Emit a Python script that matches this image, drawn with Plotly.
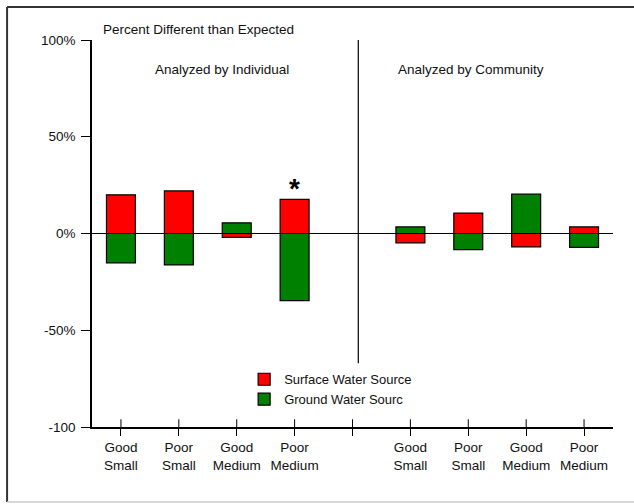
import plotly.graph_objects as go

# categories (slot 4 is the empty gap between the two groups)
x_pos = [0, 1, 2, 3, 5, 6, 7, 8]
tick_pos = [0, 1, 2, 3, 4, 5, 6, 7, 8]
tick_labels = ["Good<br>Small", "Poor<br>Small", "Good<br>Medium", "Poor<br>Medium", "",
               "Good<br>Small", "Poor<br>Small", "Good<br>Medium", "Poor<br>Medium"]
surface = [20, 22, -2, 17.6, -4.8, 10.5, -6.9, 3.4]
ground = [-15.2, -16.2, 5.5, -34.7, 3.4, -8.3, 20.3, -7.2]
y_ticks = [-100, -50, 0, 50, 100]
y_labels = ["-100", "-50%", "0%", "50%", "100%"]

font = dict(family="Liberation Sans, Arial, sans-serif", size=13.5, color="#111")

fig = go.Figure()
fig.add_trace(go.Bar(x=x_pos, y=surface, name="Surface Water Source", width=0.5,
                     marker=dict(color="#ff0000", line=dict(color="black", width=1.2))))
fig.add_trace(go.Bar(x=x_pos, y=ground, name="Ground Water Sourc", width=0.5,
                     marker=dict(color="#008000", line=dict(color="black", width=1.2))))

fig.update_layout(
    width=634, height=504,
    margin=dict(l=92, r=21, t=40, b=77),
    paper_bgcolor="white", plot_bgcolor="white",
    barmode="relative",
    font=font,
    showlegend=True,
    legend=dict(x=0.292, y=0.162, xanchor="left", yanchor="top", bgcolor="rgba(0,0,0,0)",
                itemwidth=30, tracegroupgap=0, font=dict(font, size=13)),
)
fig.update_xaxes(range=[-0.5, 8.5], tickvals=tick_pos, ticktext=tick_labels,
                 showline=True, linecolor="black", linewidth=1.5,
                 ticks="outside", ticklen=7, tickcolor="black", tickwidth=1,
                 showgrid=False, zeroline=False)
fig.update_yaxes(range=[-100, 100], tickvals=y_ticks, ticktext=y_labels,
                 showline=True, linecolor="black", linewidth=1.5,
                 ticks="outside", ticklen=9, tickcolor="black", tickwidth=1,
                 ticklabelstandoff=3,
                 showgrid=False, zeroline=True, zerolinecolor="black", zerolinewidth=1.2)

# inside half of the crossing x ticks
for t in tick_pos:
    fig.add_shape(type="line", xref="x", yref="y", x0=t, x1=t, y0=-100, y1=-96,
                  line=dict(color="black", width=1))

# divider between the two groups
fig.add_shape(type="line", xref="x", yref="y", x0=4.1, x1=4.1, y0=-67, y1=100,
              line=dict(color="black", width=1.2))

# frame
fig.add_shape(type="line", xref="paper", yref="paper", x0=-0.163, x1=1.05, y0=1.085, y1=1.085,
              line=dict(color="#333", width=2))
fig.add_shape(type="line", xref="paper", yref="paper", x0=-0.163, x1=-0.163, y0=1.085, y1=-0.194,
              line=dict(color="#333", width=2))
fig.add_shape(type="line", xref="paper", yref="paper", x0=-0.163, x1=1.05, y0=-0.194, y1=-0.194,
              line=dict(color="#ccc", width=1.5))

fig.add_annotation(text="Percent Different than Expected", xref="paper", yref="paper",
                   x=0.018, y=1.026, xanchor="left", yanchor="middle", showarrow=False)
fig.add_annotation(text="Analyzed by Individual", xref="x", yref="y",
                   x=1.75, y=85, xanchor="center", yanchor="middle", showarrow=False)
fig.add_annotation(text="Analyzed by Community", xref="x", yref="y",
                   x=6.05, y=85, xanchor="center", yanchor="middle", showarrow=False)
fig.add_annotation(text="<b>*</b>", xref="x", yref="y", x=3, y=17.6, xanchor="center",
                   yanchor="bottom", yshift=-7, showarrow=False, font=dict(size=28, color="black"))

fig.write_html("out.html", post_script="document.body.style.margin='0';",
               config={"displayModeBar": False})
